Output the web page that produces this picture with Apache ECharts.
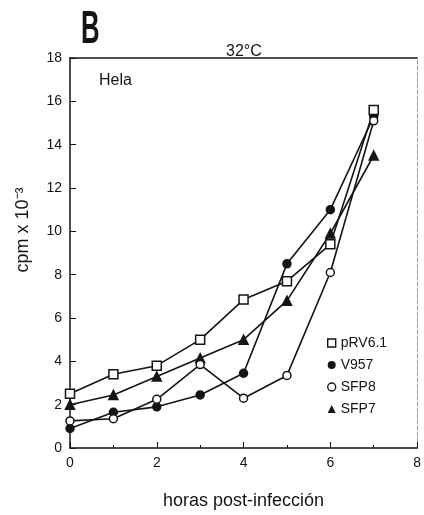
<!DOCTYPE html>
<html>
<head>
<meta charset="utf-8">
<script src="https://cdn.jsdelivr.net/npm/echarts@6/dist/echarts.min.js"></script>
<style>
  html, body { margin: 0; padding: 0; background: #fff; }
  #chart { width: 424px; height: 515px; }
</style>
</head>
<body>
<div id="chart"></div>
<script>
// horas post-infección
const horas = [0, 1, 2, 3, 4, 5, 6, 7]
// cpm x 10^-3
const pRV61 = [2.5, 3.4, 3.8, 5.0, 6.85, 7.7, 9.4, 15.6]
const V957 = [0.9, 1.65, 1.9, 2.45, 3.45, 8.5, 11.0, 15.3]
const SFP8 = [1.25, 1.35, 2.25, 3.85, 2.3, 3.35, 8.1, 15.1]
const SFP7 = [2.0, 2.45, 3.3, 4.15, 5.0, 6.8, 9.9, 13.5]

const ink = '#141414'
const font = 'Liberation Sans'

function pairs(vals) {
  return vals.map((v, i) => [horas[i], v])
}

function makeSeries(name, vals, symbol, size, filled) {
  return {
    name: name,
    type: 'line',
    data: pairs(vals),
    symbol: symbol,
    symbolSize: size,
    lineStyle: {color: ink, width: 1.6},
    itemStyle: {
      color: filled ? ink : '#fff',
      borderColor: ink,
      borderWidth: 1.5
    },
    z: filled ? 3 : 4
  }
}

const hollow = {color: '#fff', borderColor: ink, borderWidth: 1.4}
const solid = {color: ink, borderColor: ink, borderWidth: 0}

const chart = echarts.init(document.getElementById('chart'))
const option = {
  backgroundColor: '#fff',
  animation: false,
  textStyle: {fontFamily: font, color: ink},
  title: [
    {text: '32°C', left: 221, top: 39, textStyle: {fontFamily: font, fontWeight: 'normal', fontSize: 16, color: ink}},
    {text: 'Hela', left: 94, top: 68, textStyle: {fontFamily: font, fontWeight: 'normal', fontSize: 16, color: ink}}
  ],
  graphic: [
    {
      type: 'text', left: 81, top: 7, scaleX: 0.56,
      style: {text: 'B', font: 'bold 46px "Liberation Sans"', fill: ink}
    }
  ],
  legend: {
    orient: 'vertical',
    left: 322,
    top: 331,
    itemGap: 8,
    itemWidth: 8,
    itemHeight: 8,
    textStyle: {fontFamily: font, fontSize: 14, color: ink},
    data: [
      {name: 'pRV6.1', icon: 'rect', itemStyle: hollow},
      {name: 'V957', icon: 'circle', itemStyle: solid},
      {name: 'SFP8', icon: 'circle', itemStyle: hollow},
      {name: 'SFP7', icon: 'triangle', itemStyle: solid}
    ]
  },
  grid: {left: 70, right: 5, top: 58, bottom: 63},
  xAxis: [
    {
      type: 'value', min: 0, max: 8, interval: 2,
      name: 'horas post-infección', nameLocation: 'middle', nameGap: 44,
      nameTextStyle: {fontFamily: font, fontSize: 18, color: ink},
      axisLine: {onZero: false, lineStyle: {color: ink, width: 1.5}},
      axisTick: {inside: true, length: 6, lineStyle: {color: ink}},
      minorTick: {show: true, splitNumber: 2, length: 3, lineStyle: {color: ink}},
      axisLabel: {color: ink, fontSize: 14, margin: 8, showMaxLabel: true},
      splitLine: {show: false}
    },
    {
      type: 'value', min: 0, max: 8, position: 'top',
      axisLine: {show: true, onZero: false, lineStyle: {color: ink, width: 1.5}},
      axisTick: {show: false}, axisLabel: {show: false}, splitLine: {show: false}
    }
  ],
  yAxis: [
    {
      type: 'value', min: 0, max: 18, interval: 2,
      name: 'cpm x 10⁻³', nameLocation: 'middle', nameGap: 38, nameRotate: 90,
      nameTextStyle: {fontFamily: font, fontSize: 18, color: ink, padding: [0, 0, 0, 46]},
      axisLine: {onZero: false, lineStyle: {color: ink, width: 1.5}},
      axisTick: {inside: true, length: 6, lineStyle: {color: ink}},
      axisLabel: {color: ink, fontSize: 14, margin: 8},
      splitLine: {show: false}
    },
    {
      type: 'value', min: 0, max: 18, position: 'right',
      axisLine: {show: true, onZero: false, lineStyle: {color: '#999', width: 1, type: 'dashed'}},
      axisTick: {show: false}, axisLabel: {show: false}, splitLine: {show: false}
    }
  ],
  series: [
    makeSeries('pRV6.1', pRV61, 'rect', 9, false),
    makeSeries('V957', V957, 'circle', 8, true),
    makeSeries('SFP8', SFP8, 'circle', 8, false),
    makeSeries('SFP7', SFP7, 'triangle', 9, true)
  ]
}
chart.setOption(option)
window.addEventListener('resize', function () {
  chart.resize()
})
</script>
</body>
</html>
